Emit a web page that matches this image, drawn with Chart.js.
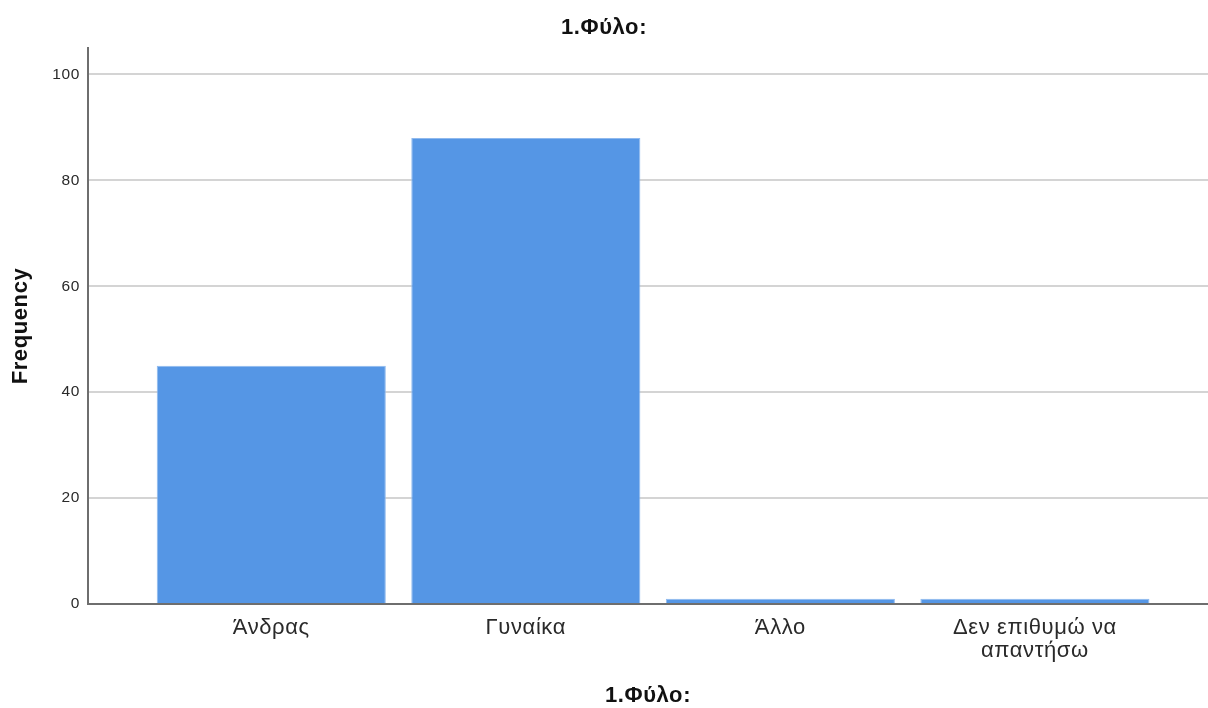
<!DOCTYPE html>
<html>
<head>
<meta charset="utf-8">
<script src="https://cdn.jsdelivr.net/npm/chart.js@4/dist/chart.umd.min.js"></script>
<style>
  html, body { margin: 0; padding: 0; background: #ffffff; }
  #wrap { width: 1208px; height: 708px; position: relative; }
</style>
</head>
<body>
<div id="wrap"><canvas id="c" width="1208" height="708"></canvas></div>
<script>
const chartTitle = "1.Φύλο:";
const xAxisTitle = "1.Φύλο:";
const yAxisTitle = "Frequency";
const categories = ["Άνδρας", "Γυναίκα", "Άλλο", ["Δεν επιθυμώ να", "απαντήσω"]];
const frequencies = [45, 88, 1, 1];
const yTickValues = [0, 20, 40, 60, 80, 100];
const yMax = 105;

const FONT = "'Liberation Sans', Arial, sans-serif";

const spacingPlugin = {
  id: 'spacing',
  beforeDraw(chart) { chart.ctx.letterSpacing = '0.6px'; }
};

new Chart(document.getElementById('c'), {
  type: 'bar',
  plugins: [spacingPlugin],
  data: {
    datasets: [{
      data: frequencies.map((v, i) => ({ x: i, y: v })),
      backgroundColor: '#5596e5',
      borderColor: '#8fb9ee',
      borderWidth: 1,
      barPercentage: 0.9,
      categoryPercentage: 1.0
    }]
  },
  options: {
    responsive: false,
    animation: false,
    layout: { padding: 0 },
    plugins: {
      legend: { display: false },
      tooltip: { enabled: false },
      title: {
        display: true,
        text: chartTitle,
        color: '#111',
        font: { family: FONT, size: 22, weight: 'bold', lineHeight: 1.0 },
        padding: { top: 17, bottom: 9 }
      }
    },
    scales: {
      x: {
        type: 'linear',
        offset: false,
        min: -0.72,
        max: categories.length - 1 + 0.68,
        afterBuildTicks: (s) => { s.ticks = categories.map((_, i) => ({ value: i })); },
        afterFit: (s) => { s.height = 104; },
        ticks: {
          autoSkip: false,
          maxRotation: 0,
          padding: 12,
          color: '#2a2a2a',
          font: { family: FONT, size: 22, lineHeight: 1.05 },
          callback: (v) => categories[v]
        },
        grid: { display: false, drawTicks: false, offset: false },
        border: { display: true, color: '#6e6e6e', width: 2 },
        title: {
          display: true,
          text: xAxisTitle,
          color: '#111',
          font: { family: FONT, size: 22, weight: 'bold', lineHeight: 1.0 },
          padding: { top: 0, bottom: 1 }
        }
      },
      y: {
        min: 0,
        max: yMax,
        afterBuildTicks: (s) => { s.ticks = yTickValues.map(v => ({ value: v })); },
        afterFit: (s) => { s.width = 88; },
        ticks: {
          padding: 8,
          color: '#2a2a2a',
          font: { family: FONT, size: 15.5 }
        },
        grid: { color: '#d4d4d4', lineWidth: 2, drawTicks: false },
        border: { display: true, color: '#6e6e6e', width: 2 },
        title: {
          display: true,
          text: yAxisTitle,
          color: '#111',
          font: { family: FONT, size: 22, weight: 'bold', lineHeight: 1.0 },
          padding: { top: 10, bottom: 0 }
        }
      }
    }
  }
});
</script>
</body>
</html>
